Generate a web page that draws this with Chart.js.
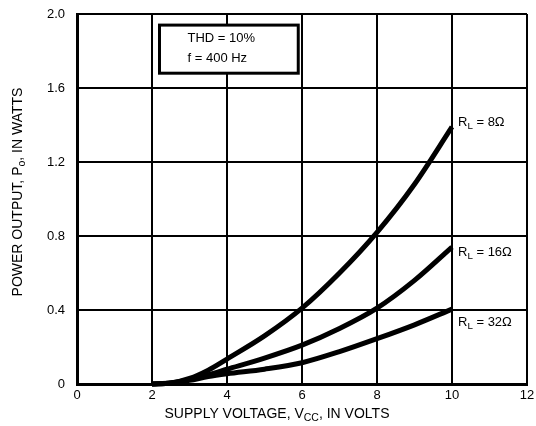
<!DOCTYPE html>
<html>
<head>
<meta charset="utf-8">
<script src="https://cdn.jsdelivr.net/npm/chart.js@4"></script>
<style>
  html, body { margin: 0; padding: 0; background: #fff; }
  #wrap { width: 536px; height: 426px; }
</style>
</head>
<body>
<div id="wrap"><canvas id="powerChart" width="536" height="426"></canvas></div>
<script>
// supply voltage points (volts)
const vcc = [2, 2.5, 3, 3.5, 4, 5, 6, 7, 8, 9, 10];
// power output (watts) for each load
const rl8 = [0, 0.005, 0.03, 0.075, 0.135, 0.26, 0.41, 0.6, 0.82, 1.08, 1.39];
const rl16 = [0, 0.005, 0.025, 0.05, 0.08, 0.14, 0.21, 0.3, 0.41, 0.56, 0.74];
const rl32 = [0, 0.005, 0.02, 0.04, 0.055, 0.08, 0.115, 0.175, 0.245, 0.32, 0.405];
const loadLabels = ["8Ω", "16Ω", "32Ω"];
const xTicks = [0, 2, 4, 6, 8, 10, 12];
const yTicks = [0, 0.4, 0.8, 1.2, 1.6, 2.0];
const noteLines = ["THD = 10%", "f = 400 Hz"];

const FONT = "'Liberation Sans', 'DejaVu Sans', sans-serif";

function toPoints(values) {
    return vcc.map((v, i) => ({ x: v, y: values[i] }));
}

// draw text pieces, some of them as subscripts
function drawParts(ctx, parts, x, y, size) {
    let cx = x;
    parts.forEach(p => {
        const s = p.sub ? size * 0.75 : size;
        ctx.font = `${s}px ${FONT}`;
        ctx.fillText(p.t, cx, p.sub ? y + size * 0.3 : y);
        cx += ctx.measureText(p.t).width;
    });
    return cx - x;
}

function partsWidth(ctx, parts, size) {
    let w = 0;
    parts.forEach(p => {
        ctx.font = `${p.sub ? size * 0.75 : size}px ${FONT}`;
        w += ctx.measureText(p.t).width;
    });
    return w;
}

const annotations = {
    id: "annotations",
    afterDraw(chart) {
        const ctx = chart.ctx;
        const xs = chart.scales.x;
        const ys = chart.scales.y;
        ctx.save();
        ctx.fillStyle = "#000";
        ctx.textBaseline = "middle";

        // note box
        const bx = xs.getPixelForValue(2.2), by = ys.getPixelForValue(1.94);
        const bw = xs.getPixelForValue(5.9) - bx, bh = ys.getPixelForValue(1.68) - by;
        ctx.fillStyle = "#fff";
        ctx.fillRect(bx, by, bw, bh);
        ctx.lineWidth = 3;
        ctx.strokeStyle = "#000";
        ctx.strokeRect(bx, by, bw, bh);
        ctx.fillStyle = "#000";
        ctx.font = `13px ${FONT}`;
        ctx.textAlign = "left";
        ctx.fillText(noteLines[0], bx + 28, by + 13);
        ctx.fillText(noteLines[1], bx + 28, by + 33);

        // load labels at curve ends
        const series = [rl8, rl16, rl32];
        const offs = [-4, 5, 13];
        series.forEach((s, i) => {
            const px = xs.getPixelForValue(10) + 6;
            const py = ys.getPixelForValue(s[s.length - 1]) + offs[i];
            drawParts(ctx, [{ t: "R" }, { t: "L", sub: true }, { t: " = " + loadLabels[i] }], px, py, 13);
        });

        // x axis title
        const xParts = [{ t: "SUPPLY VOLTAGE, V" }, { t: "CC", sub: true }, { t: ", IN VOLTS" }];
        const xw = partsWidth(ctx, xParts, 14);
        drawParts(ctx, xParts, 277 - xw / 2, 414, 14);

        // y axis title
        const yParts = [{ t: "POWER OUTPUT, P" }, { t: "o", sub: true }, { t: ", IN WATTS" }];
        const yw = partsWidth(ctx, yParts, 14);
        ctx.translate(18, 192);
        ctx.rotate(-Math.PI / 2);
        drawParts(ctx, yParts, -yw / 2, 0, 14);
        ctx.restore();
    }
};

const lineStyle = {
    borderColor: "#000",
    borderWidth: 5,
    pointRadius: 0,
    fill: false,
    clip: 4,
    cubicInterpolationMode: "monotone"
};

new Chart(document.getElementById("powerChart"), {
    type: "line",
    data: {
        datasets: [
            { label: "RL = 8", data: toPoints(rl8), ...lineStyle },
            { label: "RL = 16", data: toPoints(rl16), ...lineStyle },
            { label: "RL = 32", data: toPoints(rl32), ...lineStyle }
        ]
    },
    options: {
        responsive: false,
        animation: false,
        layout: { padding: { top: 14, right: 9, left: 0, bottom: 0 } },
        plugins: { legend: { display: false }, tooltip: { enabled: false } },
        scales: {
            x: {
                type: "linear",
                min: 0,
                max: 12,
                afterFit: scale => {
                    scale.height = 42;
                    scale.paddingLeft = 0;
                    scale.paddingRight = 0;
                },
                afterBuildTicks: scale => { scale.ticks = xTicks.map(v => ({ value: v })); },
                ticks: { color: "#000", padding: 4, font: { size: 13, family: FONT } },
                grid: { color: "#000", lineWidth: 2, drawTicks: false },
                border: { color: "#000", width: 3 }
            },
            y: {
                type: "linear",
                min: 0,
                max: 2.0,
                afterFit: scale => {
                    scale.width = 77;
                    scale.paddingTop = 0;
                    scale.paddingBottom = 0;
                },
                afterBuildTicks: scale => { scale.ticks = yTicks.map(v => ({ value: v })); },
                ticks: {
                    color: "#000",
                    padding: 12,
                    font: { size: 13, family: FONT },
                    callback: v => v === 0 ? "0" : v.toFixed(1)
                },
                grid: { color: "#000", lineWidth: 2, drawTicks: false },
                border: { color: "#000", width: 3 }
            }
        }
    },
    plugins: [annotations]
});
</script>
</body>
</html>
